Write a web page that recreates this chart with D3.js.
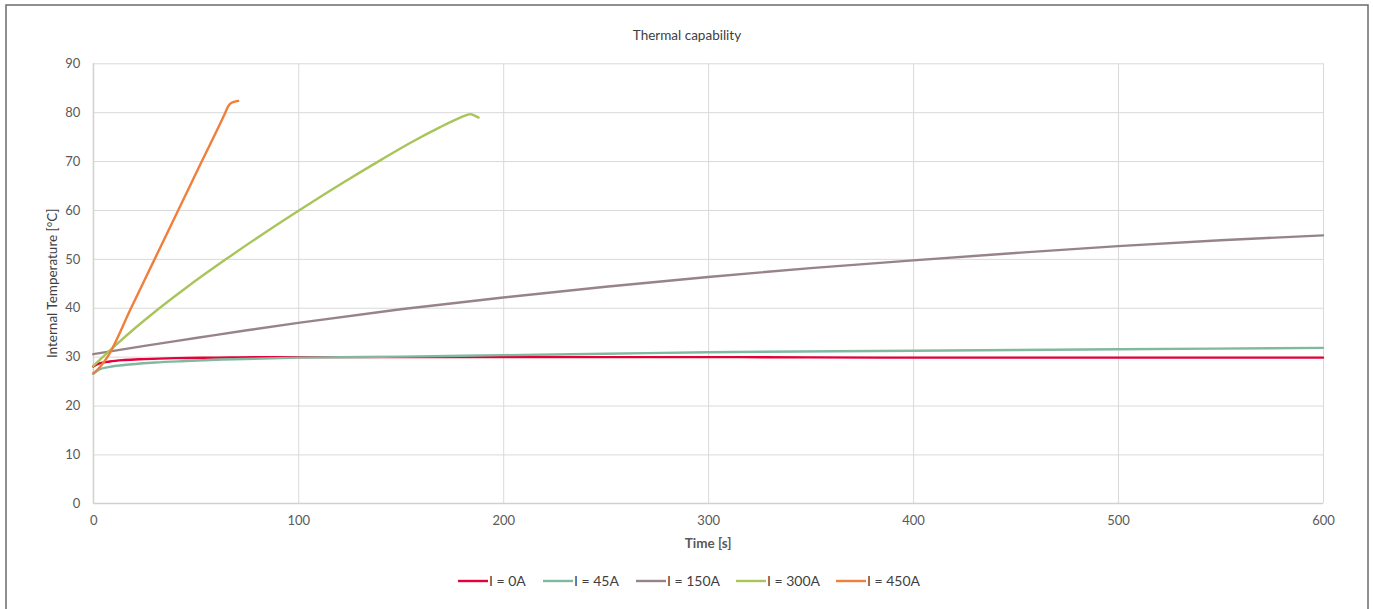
<!DOCTYPE html>
<html>
<head>
<meta charset="utf-8">
<script src="https://cdn.jsdelivr.net/npm/d3@7"></script>
<style>
  body { margin: 0; background: #fff; }
  text { font-family: Lato, "Noto Sans", sans-serif; }
</style>
</head>
<body>
<script>
// series data (time in s, temperature in degC)
var seriesNames = ["I = 0A", "I = 45A", "I = 150A", "I = 300A", "I = 450A"];
var seriesColors = ["#e4003a", "#80b8a0", "#968489", "#a9c45a", "#f07f3b"];

var t0A = [0, 3, 8, 15, 25, 40, 60, 80, 100, 150, 200, 300, 400, 500, 600];
var v0A = [28.0, 28.6, 29.0, 29.3, 29.5, 29.7, 29.8, 29.9, 29.9, 29.9, 29.9, 29.9, 29.8, 29.8, 29.8];

var t45A = [0, 3, 8, 15, 30, 45, 63, 100, 150, 200, 250, 300, 400, 500, 600];
var v45A = [26.5, 27.4, 27.9, 28.3, 28.8, 29.1, 29.4, 29.8, 30.0, 30.3, 30.6, 30.9, 31.2, 31.5, 31.8];

var t150A = [0, 25, 50, 75, 100, 150, 200, 250, 300, 350, 400, 450, 500, 550, 600];
var v150A = [30.5, 32.2, 33.8, 35.4, 36.9, 39.7, 42.1, 44.3, 46.3, 48.1, 49.7, 51.2, 52.6, 53.8, 54.8];

var t300A = [0, 10, 20, 31, 45, 65, 85, 103, 122, 141, 155, 169, 179, 182, 184, 186, 188];
var v300A = [28.1, 32.0, 35.7, 39.5, 44.0, 50.0, 55.7, 60.6, 65.6, 70.4, 73.8, 76.9, 78.9, 79.4, 79.6, 79.3, 78.9];

var t450A = [0, 2, 5, 7, 18.5, 30, 41.5, 53, 64.5, 65.8, 67, 68.7, 70.7];
var v450A = [26.6, 27.3, 28.8, 30.0, 40.0, 50.0, 60.0, 70.0, 80.0, 81.2, 81.8, 82.1, 82.3];

var xTicks = [0, 100, 200, 300, 400, 500, 600];
var yTicks = [0, 10, 20, 30, 40, 50, 60, 70, 80, 90];

var times = [t0A, t45A, t150A, t300A, t450A];
var temps = [v0A, v45A, v150A, v300A, v450A];

var W = 1373, H = 609;
var plotLeft = 93.3, plotRight = 1323, plotTop = 63.3, plotBottom = 503.3;

var svg = d3.select("body").append("svg")
    .attr("width", W)
    .attr("height", H);

// outer chart border (bottom edge falls outside the window)
svg.append("rect")
    .attr("x", 6).attr("y", 5)
    .attr("width", 1362).attr("height", 620)
    .attr("fill", "none")
    .attr("stroke", "#6b6b6b")
    .attr("stroke-width", 1.5);

var x = d3.scaleLinear().domain([0, 600]).range([plotLeft, plotRight]);
var y = d3.scaleLinear().domain([0, 90]).range([plotBottom, plotTop]);

// gridlines
svg.append("g")
    .attr("transform", "translate(0," + plotBottom + ")")
    .call(d3.axisBottom(x).tickValues(xTicks).tickSize(-(plotBottom - plotTop)).tickFormat(""))
    .call(function(g){ g.select(".domain").remove(); })
    .selectAll("line").attr("stroke", "#d9d9d9");

svg.append("g")
    .attr("transform", "translate(" + plotLeft + ",0)")
    .call(d3.axisLeft(y).tickValues(yTicks).tickSize(-(plotRight - plotLeft)).tickFormat(""))
    .call(function(g){ g.select(".domain").remove(); })
    .selectAll("line").attr("stroke", "#d9d9d9");

// axis frame lines
svg.append("line").attr("x1", plotLeft).attr("x2", plotRight).attr("y1", plotBottom).attr("y2", plotBottom)
    .attr("stroke", "#d0d0d0").attr("stroke-width", 1.2);
svg.append("line").attr("x1", plotLeft).attr("x2", plotLeft).attr("y1", plotTop).attr("y2", plotBottom)
    .attr("stroke", "#d0d0d0").attr("stroke-width", 1.2);

// tick labels
svg.append("g")
    .attr("transform", "translate(0," + plotBottom + ")")
    .call(d3.axisBottom(x).tickValues(xTicks).tickSize(0).tickPadding(12))
    .call(function(g){ g.select(".domain").remove(); })
    .selectAll("text")
    .style("font-family", "Lato, 'Noto Sans', sans-serif")
    .style("font-size", "13px")
    .attr("fill", "#595959");

svg.append("g")
    .attr("transform", "translate(" + plotLeft + ",0)")
    .call(d3.axisLeft(y).tickValues(yTicks).tickSize(0).tickPadding(13))
    .call(function(g){ g.select(".domain").remove(); })
    .selectAll("text")
    .style("font-family", "Lato, 'Noto Sans', sans-serif")
    .style("font-size", "13px")
    .attr("fill", "#595959");

// series lines
var line = d3.line()
    .x(function(d){ return x(d[0]); })
    .y(function(d){ return y(d[1]); })
    .curve(d3.curveMonotoneX);

seriesNames.forEach(function(name, i){
    var pts = d3.zip(times[i], temps[i]);
    svg.append("path")
        .datum(pts)
        .attr("d", line)
        .attr("fill", "none")
        .attr("stroke", seriesColors[i])
        .attr("stroke-width", 2.4)
        .attr("stroke-linejoin", "round")
        .attr("stroke-linecap", "round");
});

// titles
svg.append("text")
    .attr("x", 687).attr("y", 40)
    .attr("text-anchor", "middle")
    .attr("fill", "#404040")
    .style("font-size", "13.5px")
    .text("Thermal capability");

svg.append("text")
    .attr("x", (plotLeft + plotRight) / 2).attr("y", 548)
    .attr("text-anchor", "middle")
    .attr("fill", "#595959")
    .style("font-size", "13.5px")
    .style("font-weight", "bold")
    .text("Time [s]");

svg.append("text")
    .attr("transform", "translate(57," + ((plotTop + plotBottom) / 2) + ") rotate(-90)")
    .attr("text-anchor", "middle")
    .attr("fill", "#404040")
    .style("font-size", "13.5px")
    .text("Internal Temperature [°C]");

// legend
var legendX = [458, 543, 636, 736, 836];
var legend = svg.append("g").selectAll("g")
    .data(seriesNames)
    .enter()
    .append("g")
    .attr("transform", function(d, i){ return "translate(" + legendX[i] + ",581)"; });

legend.append("line")
    .attr("x1", 0).attr("x2", 30)
    .attr("y1", 0).attr("y2", 0)
    .attr("stroke", function(d, i){ return seriesColors[i]; })
    .attr("stroke-width", 2.4);

legend.append("text")
    .attr("x", 31).attr("y", 5)
    .attr("fill", "#404040")
    .style("font-size", "14px")
    .text(function(d){ return d; });
</script>
</body>
</html>
